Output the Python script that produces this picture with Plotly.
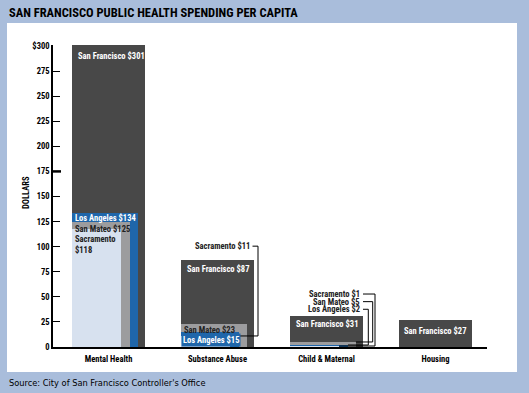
import plotly.graph_objects as go

# ---------------- data ----------------
categories = ["Mental Health", "Substance Abuse", "Child & Maternal", "Housing"]
cities = ["San Francisco", "Los Angeles", "San Mateo", "Sacramento"]
san_francisco = [301, 87, 31, 27]
los_angeles = [134, 15, 2, None]
san_mateo = [125, 23, 5, None]
sacramento = [118, 11, 1, None]
y_tickvals = [0, 25, 50, 75, 100, 125, 150, 175, 200, 225, 250, 275, 300]
y_ticktext = ["0", "25", "50", "75", "100", "125", "150", "175", "200", "225", "250", "275", "$300"]

# ---------------- style ----------------
colors = {"San Francisco": "#484848", "Los Angeles": "#1f66aa",
          "San Mateo": "#9c9c9e", "Sacramento": "#d7e1ef"}
BG = "#a9bddb"
FONT = "Roboto Condensed, Open Sans Condensed, DejaVu Sans Condensed, sans-serif"
PLAIN = "DejaVu Sans Condensed, Liberation Sans, sans-serif"
widths_by_rank = [0.67, 0.605, 0.532, 0.45]
OFFSET = -0.335
PX = 109.0  # pixels per category unit

series = {"San Francisco": san_francisco, "Los Angeles": los_angeles,
          "San Mateo": san_mateo, "Sacramento": sacramento}

# build traces by rank (widest / tallest at back)
ranked = [[None] * len(categories) for _ in range(4)]
ranked_col = [["rgba(0,0,0,0)"] * len(categories) for _ in range(4)]
rank_of = {}
for i, cat in enumerate(categories):
    vals = [(series[c][i], c) for c in cities if series[c][i] is not None]
    vals.sort(key=lambda t: -t[0])
    for r, (v, c) in enumerate(vals):
        ranked[r][i] = v
        ranked_col[r][i] = colors[c]
        rank_of[(c, i)] = r

fig = go.Figure()
for r in range(4):
    fig.add_trace(go.Bar(x=categories, y=ranked[r], width=widths_by_rank[r],
                         offset=OFFSET, marker=dict(color=ranked_col[r], line=dict(width=0)),
                         showlegend=False, hoverinfo="skip"))


def right_edge(city, i):
    return i + OFFSET + widths_by_rank[rank_of[(city, i)]]


ann = []
lbl = dict(size=8.5, family=FONT, weight="bold")


def bar_label(city, i, text, color, xshift, yshift, **kw):
    v = series[city][i]
    ann.append(dict(x=i + OFFSET, y=v, xref="x", yref="y", text=text, showarrow=False,
                    xanchor="left", yanchor="top", xshift=xshift, yshift=yshift,
                    align="left", font=dict(lbl, color=color), **kw))


# Mental Health
bar_label("San Francisco", 0, "San Francisco $301", "white", 4, -4)
bar_label("Los Angeles", 0, "Los Angeles $134", "white", 1, 2)
bar_label("San Mateo", 0, "San Mateo $125", "#222222", 1, 0)
bar_label("Sacramento", 0, "Sacramento<br>$118", "#222222", 1, -3)
# Substance Abuse
bar_label("San Francisco", 1, "San Francisco $87", "white", 4, -2)
bar_label("San Mateo", 1, "San Mateo $23", "#222222", 1, 1)
ann.append(dict(x=1 + OFFSET, y=los_angeles[1], xref="x", yref="y", text="Los Angeles $15",
                showarrow=False, xanchor="left", yanchor="top", yshift=-1,
                bgcolor=colors["Los Angeles"], borderpad=1, font=dict(lbl, color="white")))
# Child & Maternal / Housing
bar_label("San Francisco", 2, "San Francisco $31", "white", 4, -1)
bar_label("San Francisco", 3, "San Francisco $27", "white", 3, -4)

# leader-line labels: (city, category, label y in data units, corner offset px, label end px)
leaders = [("Sacramento", 1, 100.5, 40.5, 34),
           ("Sacramento", 2, 52.8, 48.5, 35.5),
           ("San Mateo", 2, 45.2, 46.2, 35.5),
           ("Los Angeles", 2, 37.6, 41.8, 35.5)]
shapes = []
for city, i, ly, corner_px, end_px in leaders:
    v = series[city][i]
    ann.append(dict(x=i + end_px / PX, y=ly, xref="x", yref="y",
                    text=f"{city} ${v}", showarrow=False, xanchor="right", yanchor="middle",
                    font=dict(lbl, color="#222222")))
    cx = i + corner_px / PX
    line = dict(color="black", width=1)
    shapes.append(dict(type="line", xref="x", yref="y", x0=i + (end_px + 1) / PX, x1=cx,
                       y0=ly, y1=ly, line=line))
    shapes.append(dict(type="line", xref="x", yref="y", x0=cx, x1=cx, y0=ly, y1=v, line=line))
    shapes.append(dict(type="line", xref="x", yref="y", x0=cx, x1=right_edge(city, i),
                       y0=v, y1=v, line=line))

# white panel
L, R, T, B = 53, 42, 45, 46
W, H = 529, 393
pw, ph = W - L - R, H - T - B


def px_x(p):
    return (p - L) / pw


def px_y(p):
    return (H - B - p) / ph


shapes.insert(0, dict(type="rect", xref="paper", yref="paper", x0=px_x(7), x1=px_x(517),
                      y0=px_y(372), y1=px_y(23), fillcolor="white", line=dict(width=0),
                      layer="below"))
# odd thicker tick at 175
shapes.append(dict(type="line", xref="paper", yref="y", x0=0, x1=px_x(61), y0=175, y1=175,
                   line=dict(color="black", width=2.5)))

ann.append(dict(x=px_x(7), y=px_y(12), xref="paper", yref="paper", xanchor="left",
                yanchor="middle", showarrow=False,
                text="SAN FRANCISCO PUBLIC HEALTH SPENDING PER CAPITA",
                font=dict(size=12.5, family=FONT, weight="bold", color="black")))
ann.append(dict(x=px_x(7), y=px_y(382), xref="paper", yref="paper", xanchor="left",
                yanchor="middle", showarrow=False,
                text="Source: City of San Francisco Controller's Office",
                font=dict(size=9.2, family=PLAIN, color="black")))
ann.append(dict(x=px_x(26), y=px_y(193), xref="paper", yref="paper", xanchor="center",
                yanchor="middle", showarrow=False, text="DOLLARS", textangle=-90,
                font=dict(size=8.5, family=FONT, weight="bold", color="black")))

fig.update_layout(
    width=W, height=H, margin=dict(l=L, r=R, t=T, b=B, autoexpand=False),
    paper_bgcolor=BG, plot_bgcolor="white", barmode="overlay", bargap=0,
    annotations=ann, shapes=shapes,
    xaxis=dict(type="category", range=[(L - 108.5) / PX, 3 + (W - R - 435.5) / PX],
               showline=True, linecolor="black", linewidth=1.5, ticks="", showgrid=False,
               zeroline=False, tickfont=dict(size=8.5, family=FONT, weight="bold", color="black"),
               ticklabelstandoff=3, fixedrange=True, automargin=False),
    yaxis=dict(range=[0, 301], tickvals=y_tickvals, ticktext=y_ticktext, ticks="inside",
               ticklen=7, tickwidth=1.2, tickcolor="black", showline=True, linecolor="black",
               linewidth=1.5, showgrid=False, zeroline=False,
               tickfont=dict(size=8.5, family=FONT, weight="bold", color="black"),
               fixedrange=True, automargin=False),
)

fig.write_html("out.html", config={"displayModeBar": False},
               post_script="document.body.style.margin='0px';document.body.style.overflow='hidden';")
